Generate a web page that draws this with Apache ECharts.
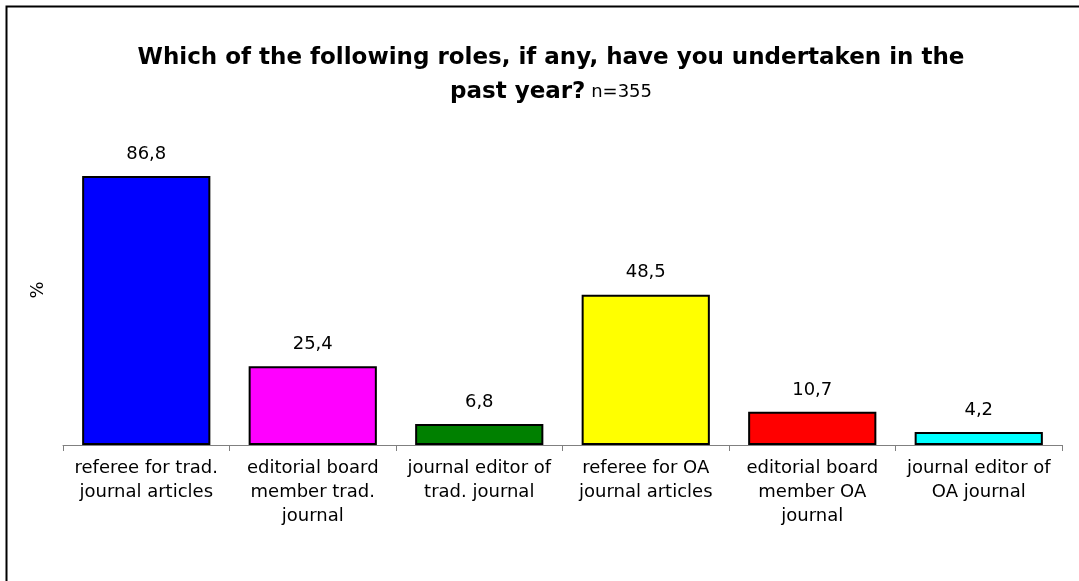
<!DOCTYPE html>
<html><head><meta charset="utf-8">
<script src="https://cdn.jsdelivr.net/npm/echarts@6/dist/echarts.min.js"></script>
<style>html,body{margin:0;padding:0;background:#fff}#c{width:1079px;height:581px}</style>
</head><body><div id="c"></div>
<script>
const categories = ['referee for trad.\njournal articles','editorial board\nmember trad.\njournal','journal editor of\ntrad. journal','referee for OA\njournal articles','editorial board\nmember OA\njournal','journal editor of\nOA journal'];
const values = [86.8, 25.4, 6.8, 48.5, 10.7, 4.2];
const colors = ['#0000FF','#FF00FF','#008000','#FFFF00','#FF0000','#00FFFF'];
const titleMain = 'Which of the following roles, if any, have you undertaken in the';
const titleMain2 = 'past year?';
const titleN = 'n=355';

const FONT = 'DejaVu Sans, Verdana, sans-serif';
const chart = echarts.init(document.getElementById('c'));
chart.setOption({
  animation:false,
  backgroundColor:'#fff',
  textStyle:{fontFamily:FONT},
  title:{
    text:'{b|'+titleMain+'}\n{b|'+titleMain2+'} {n|'+titleN+'}',
    left:546, top:36, textAlign:'center',
    textStyle:{fontWeight:'normal',rich:{
      b:{fontSize:23,fontWeight:'bold',color:'#000',fontFamily:FONT,lineHeight:34},
      n:{fontSize:18,fontWeight:'normal',color:'#000',fontFamily:FONT,lineHeight:34}
    }}
  },
  graphic:[{type:'rect',shape:{x:6.5,y:6.5,width:1100,height:600},style:{fill:'none',stroke:'#000',lineWidth:2},silent:true,z:-1}],
  grid:{left:63,right:17,top:135,bottom:136},
  xAxis:{type:'category',data:categories,
    axisLine:{lineStyle:{color:'#808080',width:1}},
    axisTick:{show:true,alignWithLabel:false,length:6,lineStyle:{color:'#808080'}},
    axisLabel:{color:'#000',fontSize:18,lineHeight:24,margin:11,interval:0,fontFamily:FONT}
  },
  yAxis:{type:'value',min:0,max:100,
    name:'%',nameLocation:'middle',nameGap:16,nameRotate:90,
    nameTextStyle:{color:'#000',fontSize:18,fontFamily:FONT},
    axisLine:{show:false},axisTick:{show:false},axisLabel:{show:false},splitLine:{show:false}
  },
  series:[{type:'bar',barWidth:'77%',
    data:values.map((v,i)=>({value:v,itemStyle:{color:colors[i]}})),
    itemStyle:{borderColor:'#000',borderWidth:2},
    label:{show:true,position:'top',distance:13,color:'#000',fontSize:18,fontFamily:FONT,
      formatter:p=>p.value.toFixed(1).replace('.',',')}
  }]
});
</script></body></html>
